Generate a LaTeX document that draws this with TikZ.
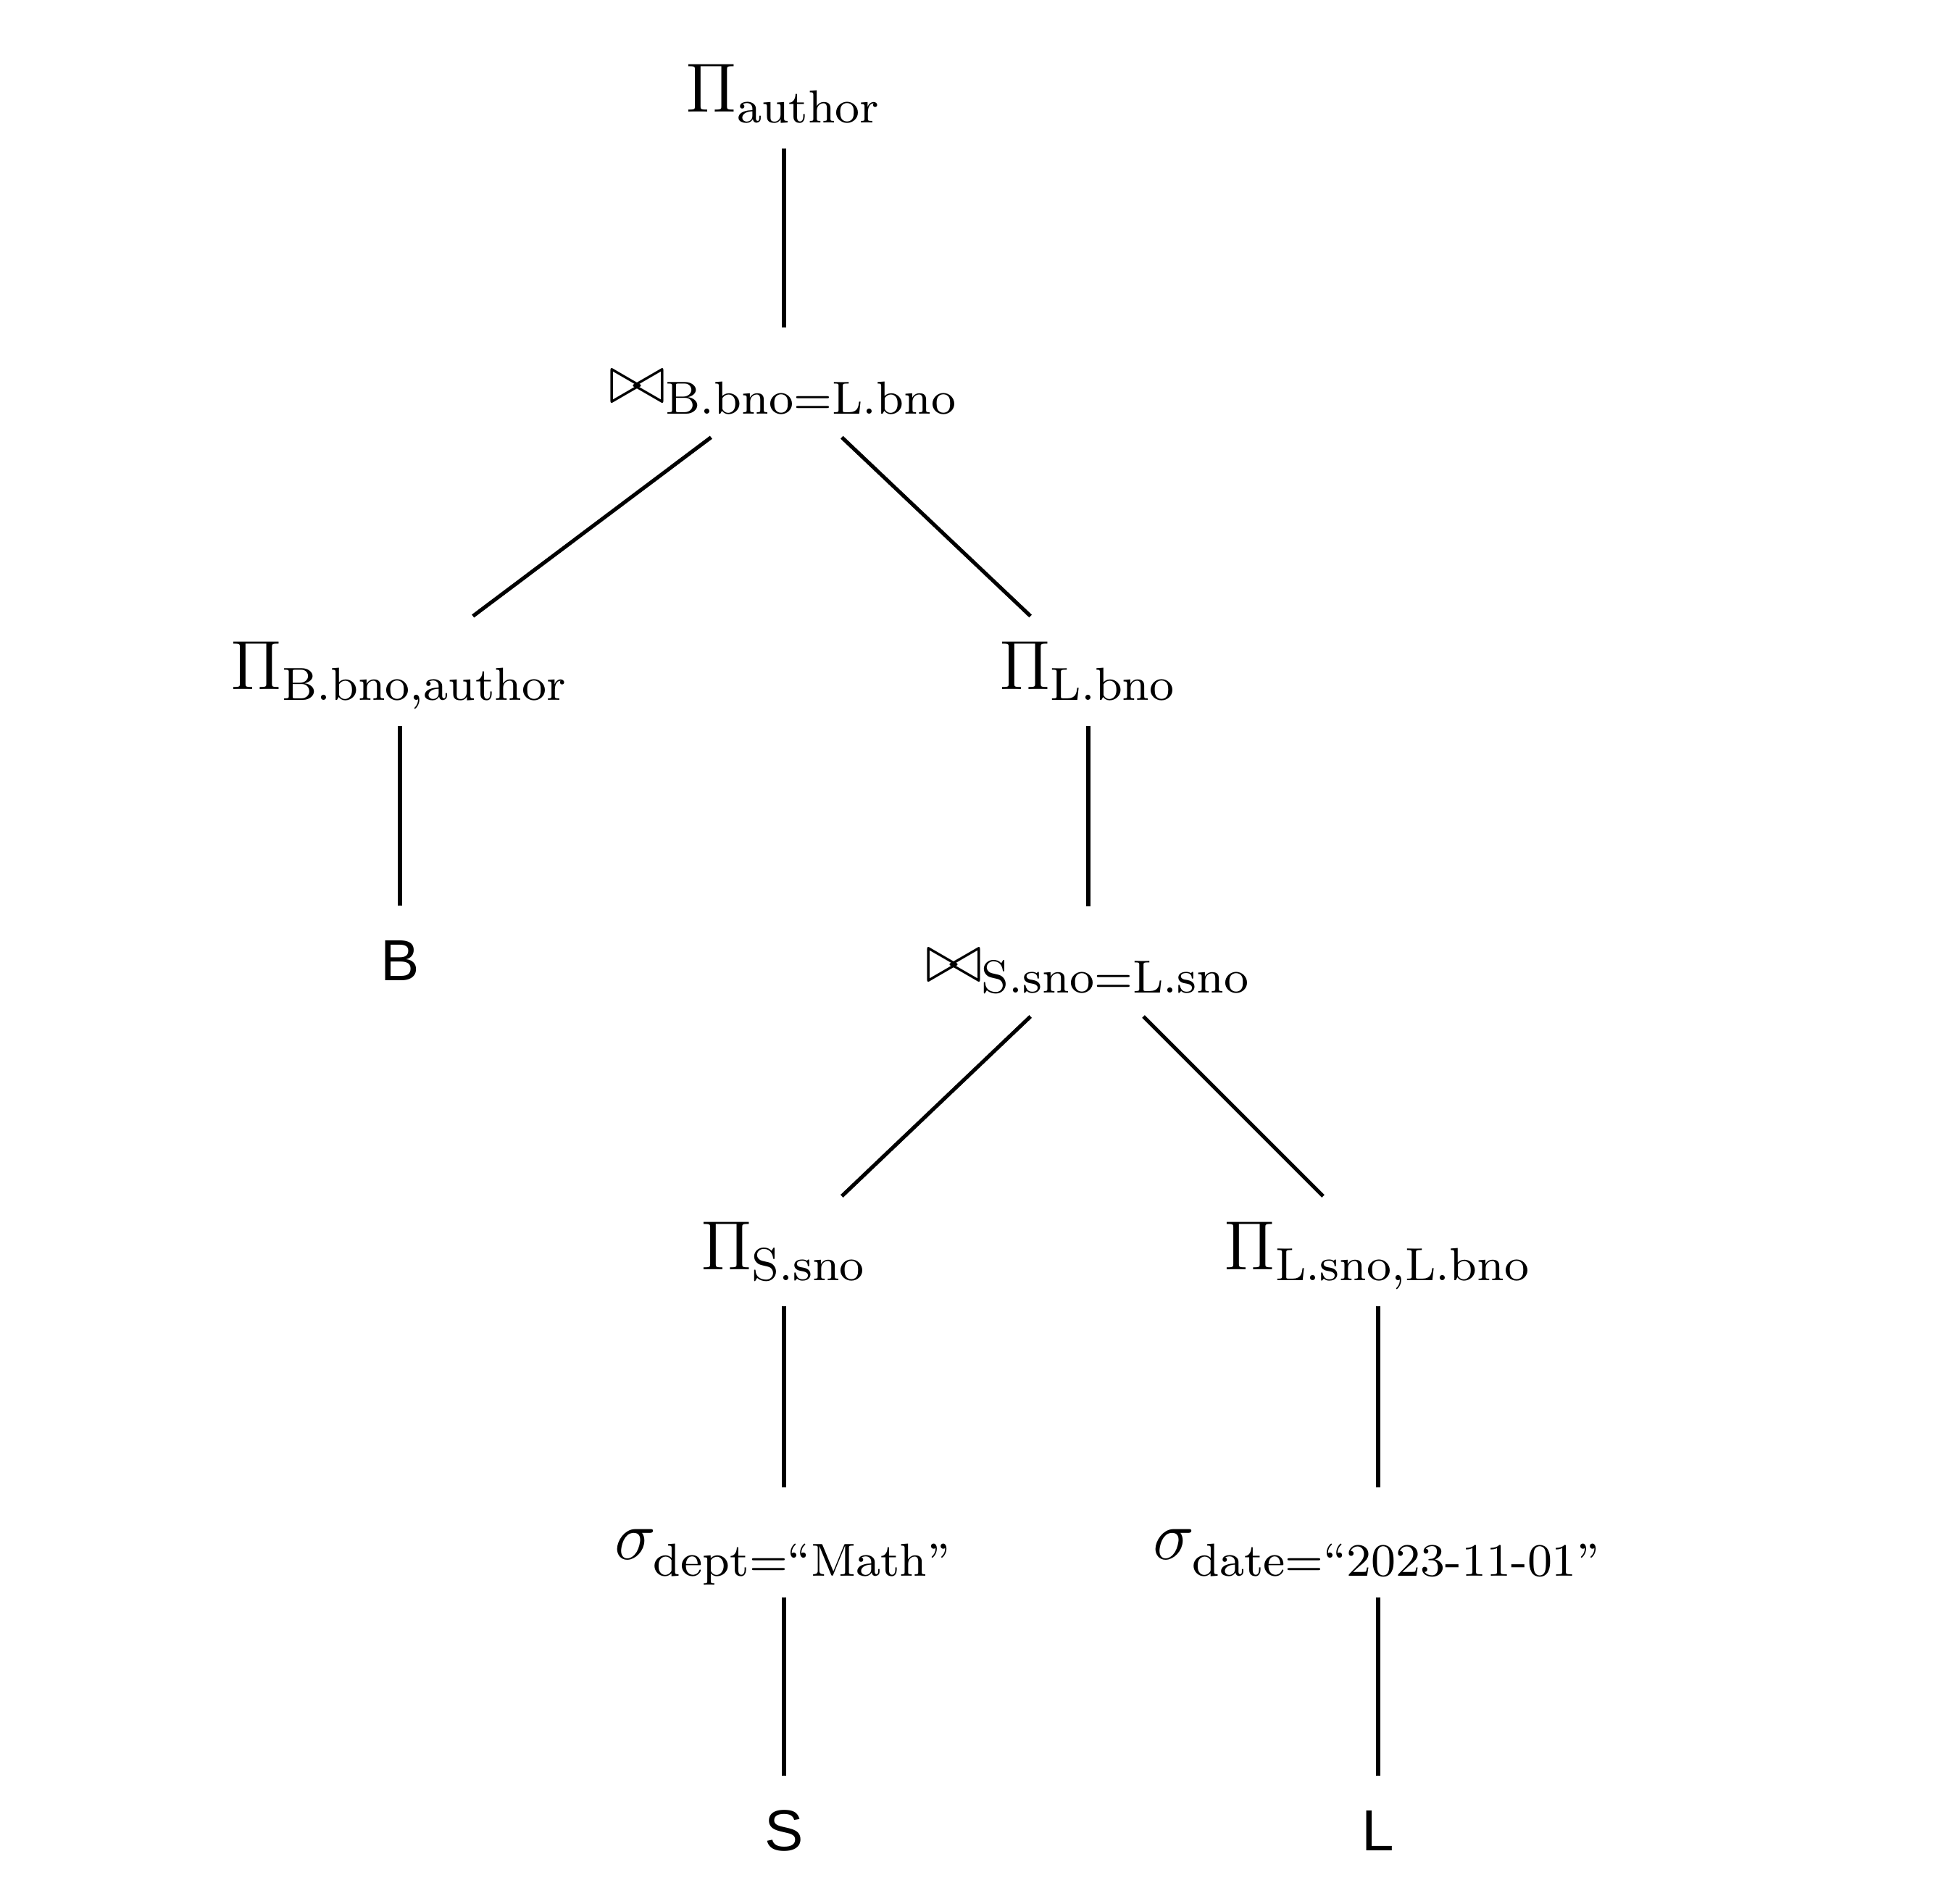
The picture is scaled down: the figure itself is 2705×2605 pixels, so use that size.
\documentclass[tikz,border=0pt]{standalone}
\usepackage{amsmath}
\usepackage{fontspec}
\usetikzlibrary{calc}
\newfontfamily\leaffont{Liberation Sans}
\newcommand{\lowsub}[1]{\lower1.1pt\hbox{$\scriptstyle #1$}}

\tikzset{
  op/.style={font=\fontsize{12}{14}\selectfont, inner sep=0pt},
  joinop/.style={op, text height=7.2pt, text depth=0pt},
  selop/.style={op, text height=5.9pt, text depth=0pt},
  rel/.style={font=\fontsize{10}{12}\selectfont\leaffont, inner sep=0pt},
  link/.style={line width=0.65pt}
}

\begin{document}
\begin{tikzpicture}[x=0.125pt, y=-0.125pt]
  \useasboundingbox (0,0) rectangle (2705,2605);
  % operators
  \node[op] (root) at (1082,129) {$\Pi_{\smash{\mathrm{author}}}$};
  \node[joinop] (join1) at (1082,528) {$\bowtie_{\smash{\mathrm{B.bno}=\mathrm{L.bno}}}$};
  \node[op] (projB) at (552,926) {$\Pi_{\smash{\mathrm{B.bno,author}}}$};
  \node[op] (projL) at (1502,926) {$\Pi_{\smash{\mathrm{L.bno}}}$};
  \node[joinop] (join2) at (1502,1327) {$\bowtie_{\smash{\mathrm{S.sno}=\mathrm{L.sno}}}$};
  \node[op] (projS) at (1082,1727) {$\Pi_{\smash{\mathrm{S.sno}}}$};
  \node[op] (projLL) at (1902,1727) {$\Pi_{\smash{\mathrm{L.sno,L.bno}}}$};
  \node[selop] (selS) at (1082,2129) {$\sigma_{\smash{\lowsub{\mathrm{dept}=\text{“Math”}}}}$};
  \node[selop] (selL) at (1902,2129) {$\sigma_{\smash{\lowsub{\mathrm{date}=\text{“2023-11-01”}}}}$};
  % relations
  \node[rel] (B) at (552,1326) {B};
  \node[rel] (S) at (1082,2527) {S};
  \node[rel] (L) at (1902,2527) {L};
  % edges
  \foreach \a/\b in {root/join1, join1/projB, join1/projL, projB/B, projL/join2,
                     join2/projS, join2/projLL, projS/selS, projLL/selL, selS/S, selL/L}
    \draw[link] ($(\a.center)!0.19!(\b.center)$) -- ($(\a.center)!0.81!(\b.center)$);
\end{tikzpicture}
\end{document}
